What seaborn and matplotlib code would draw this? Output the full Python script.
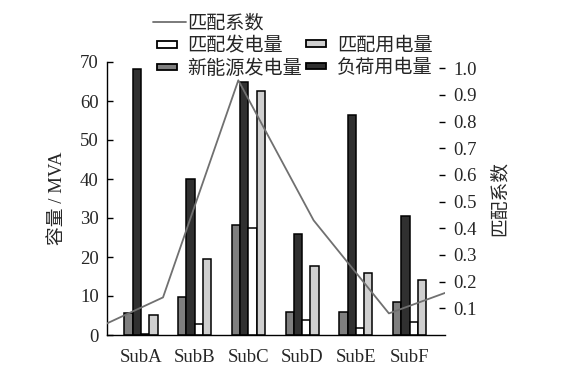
import matplotlib
matplotlib.use("Agg")
import matplotlib.pyplot as plt
import seaborn as sns
import pandas as pd
import numpy as np
from matplotlib.patches import Patch, Rectangle
from matplotlib.lines import Line2D
from matplotlib.legend_handler import HandlerPatch
from matplotlib.font_manager import FontProperties

# ---- data ----
subs = ["SubA", "SubB", "SubC", "SubD", "SubE", "SubF"]
new_energy_gen = [5.6, 9.7, 28.2, 5.9, 5.9, 8.5]      # 新能源发电量
load_use = [68.2, 40.0, 64.9, 25.9, 56.4, 30.5]       # 负荷用电量
match_gen = [0.3, 2.8, 27.4, 3.8, 1.8, 3.3]           # 匹配发电量
match_use = [5.1, 19.5, 62.5, 17.7, 15.9, 14.1]       # 匹配用电量
match_coef = [0.01, 0.141, 0.955, 0.43, 0.081, 0.184] # 匹配系数

series_names = ["新能源发电量", "负荷用电量", "匹配发电量", "匹配用电量"]
series_vals = [new_energy_gen, load_use, match_gen, match_use]
colors = ["#7f7f7f", "#303030", "#ffffff", "#cfcfcf"]
line_color = "#707070"

rows = []
for name, vals in zip(series_names, series_vals):
    for s, v in zip(subs, vals):
        rows.append({"sub": s, "series": name, "value": v})
df = pd.DataFrame(rows)
df_line = pd.DataFrame({"idx": np.arange(len(subs)), "coef": match_coef})

sns.set_theme(style="white")
plt.rcParams["font.family"] = ["Liberation Serif", "Noto Sans CJK SC"]
plt.rcParams["axes.unicode_minus"] = False
FS = 13.5

fig = plt.figure(figsize=(5.64, 3.71), dpi=100)
left, right, bottom, top = 107/564, 445/564, (371-335)/371, (371-62)/371
ax = fig.add_axes([left, bottom, right-left, top-bottom])

sns.barplot(data=df, x="sub", y="value", hue="series", hue_order=series_names,
            palette=colors, width=0.615, edgecolor="black", linewidth=1.1,
            saturation=1, ax=ax, legend=False)
ax.set_xlim(-0.633, 5.66)
ax.set_ylim(0, 70)
ax.set_yticks(range(0, 71, 10))
ax.set_xlabel("")
ax.set_ylabel("容量 / MVA", fontsize=FS, labelpad=10)
ax.spines["top"].set_visible(False)
ax.spines["right"].set_visible(False)
for sp in ["left", "bottom"]:
    ax.spines[sp].set_color("black")
    ax.spines[sp].set_linewidth(1.0)
ax.tick_params(axis="y", direction="in", length=4, width=1, color="black",
               labelsize=FS, left=True, pad=6)
ax.tick_params(axis="x", bottom=False, labelsize=FS, pad=4)
ax.patch.set_alpha(0)

# ---- match coefficient axis (independent x scale) ----
ax2 = fig.add_axes(ax.get_position(), frameon=False)
sns.lineplot(data=df_line, x="idx", y="coef", color=line_color, linewidth=1.3, ax=ax2)
ax2.set_xlim(0.256, 4.745)
ax2.set_ylim(0, 273/266.7)
ax2.set_yticks(np.round(np.arange(0.1, 1.01, 0.1), 1))
ax2.set_yticklabels([f"{v:.1f}" for v in np.arange(0.1, 1.01, 0.1)])
ax2.yaxis.tick_right()
ax2.yaxis.set_label_position("right")
ax2.spines["right"].set_visible(True)
ax2.spines["right"].set_bounds(0, 1.0)
ax2.spines["right"].set_color("black")
ax2.spines["right"].set_linewidth(1.0)
for sp in ["top", "left", "bottom"]:
    ax2.spines[sp].set_visible(False)
ax2.xaxis.set_visible(False)
ax2.set_xlabel("")
ax2.set_ylabel("匹配系数", fontsize=FS, labelpad=10)
ax2.tick_params(axis="y", direction="in", length=4, width=1, color="black",
                labelsize=FS, right=True, left=False, pad=6)

# ---- legend ----
def small_rect(legend, orig_handle, xdescent, ydescent, width, height, fontsize):
    w = width * 0.62
    h = height * 0.5
    return Rectangle((-xdescent + width*0.12, -ydescent + (height - h)/2), w, h)

handles = [
    Line2D([], [], color=line_color, linewidth=1.3),
    Patch(facecolor=colors[2], edgecolor="black", linewidth=1.3),
    Patch(facecolor=colors[0], edgecolor="black", linewidth=1.3),
    Patch(visible=False),
    Patch(facecolor=colors[3], edgecolor="black", linewidth=1.3),
    Patch(facecolor=colors[1], edgecolor="black", linewidth=1.3),
]
labels = ["匹配系数", "匹配发电量", "新能源发电量", "", "匹配用电量", "负荷用电量"]
hm = {h: HandlerPatch(patch_func=small_rect) for h in handles[1:]}
leg = fig.legend(handles, labels, ncol=2, loc="upper left",
                 bbox_to_anchor=(153/564, 1 - 15/371), frameon=False,
                 prop=FontProperties(family=["Liberation Serif", "Noto Sans CJK SC"], size=13.8),
                 handlelength=1.7, handletextpad=0.1, columnspacing=0.0,
                 labelspacing=0.22, borderpad=0.0, borderaxespad=0.0,
                 handler_map=hm)

fig.savefig("out.png", dpi=100, facecolor="white")
